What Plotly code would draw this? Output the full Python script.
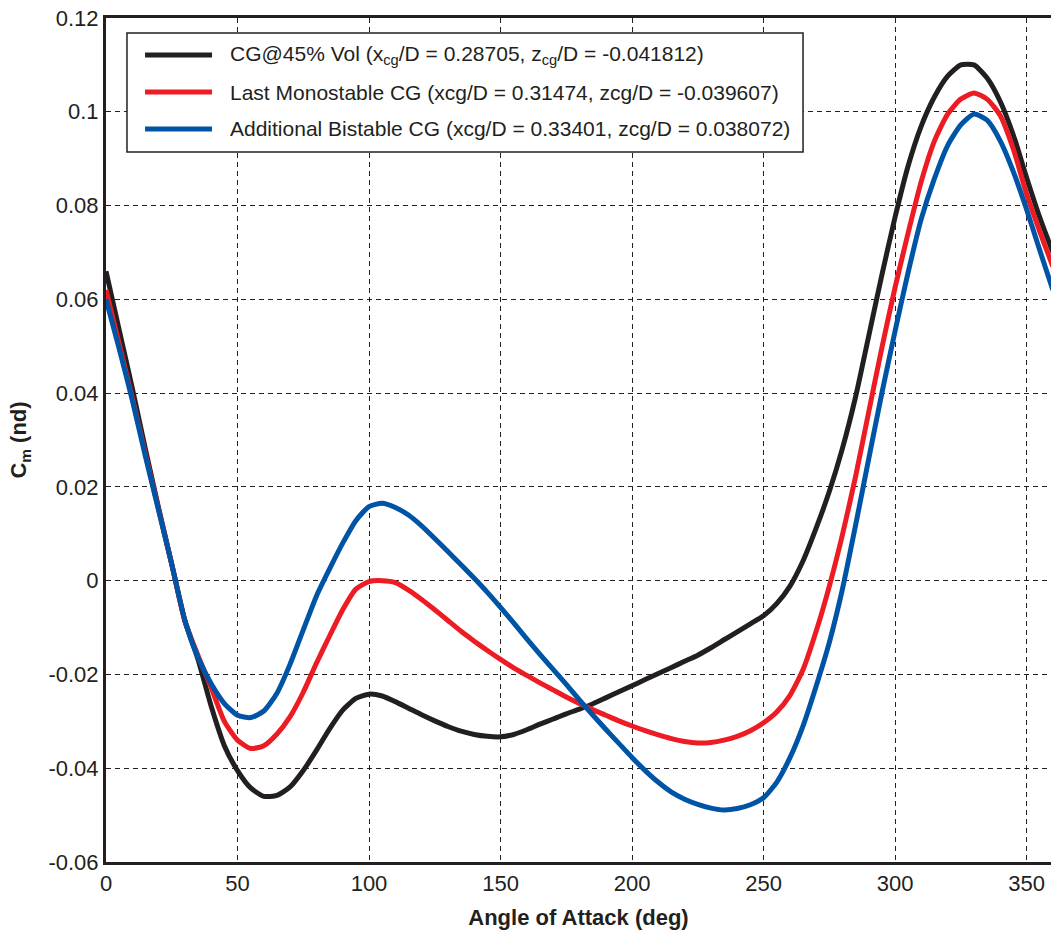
import plotly.graph_objects as go

# ---- data ----
aoa = list(range(0, 365, 5))

cm_black = [0.066, 0.0535, 0.041, 0.028, 0.0155, 0.0035, -0.0086, -0.0168, -0.0268, -0.0352,
            -0.0405, -0.0442, -0.0460, -0.0458, -0.0440, -0.0405, -0.0362, -0.0316, -0.0276, -0.0251,
            -0.0242, -0.0246, -0.0258, -0.0272, -0.0286, -0.0299, -0.0311, -0.0321, -0.0328, -0.0332,
            -0.0333, -0.0328, -0.0318, -0.0306, -0.0295, -0.0284, -0.0274, -0.0263, -0.0250, -0.0237,
            -0.0224, -0.0211, -0.0198, -0.0185, -0.0172, -0.0159, -0.0143, -0.0126, -0.0109, -0.0092,
            -0.0075, -0.0049, -0.0012, 0.0042, 0.0112, 0.0190, 0.0282, 0.0392, 0.0522, 0.0652,
            0.0775, 0.0885, 0.0970, 0.1032, 0.1076, 0.1100, 0.1100, 0.1072, 0.1022, 0.0950,
            0.0860, 0.0775, 0.0700]

cm_red = [0.062, 0.0505, 0.039, 0.027, 0.0152, 0.0035, -0.0086, -0.0160, -0.0228, -0.0300,
          -0.0340, -0.0358, -0.0352, -0.0327, -0.0290, -0.0238, -0.0176, -0.0118, -0.0062, -0.0018,
          -0.0002, 0.0000, -0.0004, -0.0020, -0.0040, -0.0062, -0.0085, -0.0108, -0.0129, -0.0149,
          -0.0168, -0.0186, -0.0202, -0.0218, -0.0233, -0.0248, -0.0262, -0.0275, -0.0287, -0.0299,
          -0.0310, -0.0320, -0.0329, -0.0337, -0.0343, -0.0346, -0.0345, -0.0340, -0.0332, -0.0320,
          -0.0303, -0.0280, -0.0245, -0.0190, -0.0108, -0.0012, 0.0098, 0.0222, 0.0360, 0.0497,
          0.0625, 0.0742, 0.0852, 0.0938, 0.0995, 0.1027, 0.1040, 0.1027, 0.0992, 0.0920,
          0.0825, 0.0745, 0.0670]

cm_blue = [0.060, 0.0495, 0.0385, 0.0265, 0.015, 0.0035, -0.0085, -0.0164, -0.0220, -0.0262,
           -0.0287, -0.0292, -0.0278, -0.0240, -0.0178, -0.0105, -0.0033, 0.0025, 0.0080, 0.0128,
           0.0158, 0.0165, 0.0156, 0.0140, 0.0117, 0.0090, 0.0062, 0.0034, 0.0005, -0.0025,
           -0.0057, -0.0090, -0.0124, -0.0157, -0.0189, -0.0221, -0.0254, -0.0286, -0.0317, -0.0347,
           -0.0377, -0.0405, -0.0430, -0.0451, -0.0466, -0.0477, -0.0485, -0.0489, -0.0486, -0.0478,
           -0.0463, -0.0430, -0.0378, -0.0310, -0.0225, -0.0132, -0.0018, 0.0118, 0.0260, 0.0400,
           0.0532, 0.0658, 0.0772, 0.0858, 0.0928, 0.0972, 0.0995, 0.0982, 0.0938, 0.0872,
           0.0792, 0.0705, 0.0620]

series_names = [
    "CG@45% Vol (x<sub>cg</sub>/D = 0.28705, z<sub>cg</sub>/D = -0.041812)",
    "Last Monostable CG (xcg/D = 0.31474, zcg/D = -0.039607)",
    "Additional Bistable CG (xcg/D = 0.33401, zcg/D = 0.038072)",
]
series_colors = ["#231f20", "#ed1c24", "#0054a6"]

x_tickvals = [0, 50, 100, 150, 200, 250, 300, 350]
x_ticktext = ["0", "50", "100", "150", "200", "250", "300", "350"]
y_tickvals = [-0.06, -0.04, -0.02, 0, 0.02, 0.04, 0.06, 0.08, 0.1, 0.12]
y_ticktext = ["-0.06", "-0.04", "-0.02", "0", "0.02", "0.04", "0.06", "0.08", "0.1", "0.12"]

FONT = "Liberation Sans, Arial, sans-serif"
INK = "#231f20"

fig = go.Figure()
for ys, name, col in zip([cm_black, cm_red, cm_blue], series_names, series_colors):
    fig.add_trace(go.Scatter(x=aoa, y=ys, mode="lines", name=name,
                             line=dict(color=col, width=5, shape="spline", smoothing=0.6),
                             showlegend=False))

# custom legend (paper coordinates)
lx0, lx1, ly0, ly1 = 0.0222, 0.7376, 0.8412, 0.9822
fig.add_shape(type="rect", xref="paper", yref="paper", x0=lx0, x1=lx1, y0=ly0, y1=ly1,
              line=dict(color=INK, width=1.5), fillcolor="white", layer="above")
row_y = [0.9562, 0.9123, 0.8685]
for ry, name, col in zip(row_y, series_names, series_colors):
    fig.add_shape(type="line", xref="paper", yref="paper", x0=0.0413, x1=0.1122, y0=ry, y1=ry,
                  line=dict(color=col, width=5), layer="above")
    fig.add_annotation(xref="paper", yref="paper", x=0.1291, y=ry, text=name, showarrow=False,
                       xanchor="left", yanchor="middle",
                       font=dict(family=FONT, size=21, color=INK))

grid = dict(showgrid=True, gridcolor=INK, gridwidth=1.2, griddash="5px,4px", zeroline=False,
            showline=True, linecolor=INK, linewidth=3, ticks="",
            tickfont=dict(family=FONT, size=22, color=INK))

fig.update_layout(
    width=1051, height=934,
    margin=dict(l=106, r=0, t=18, b=72, autoexpand=False),
    paper_bgcolor="white", plot_bgcolor="white",
    xaxis=dict(range=[0, 359.3], tickvals=x_tickvals, ticktext=x_ticktext, mirror=True,
               title=dict(text="<b>Angle of Attack (deg)</b>", standoff=15,
                          font=dict(family=FONT, size=22, color=INK)),
               **grid),
    yaxis=dict(range=[-0.06, 0.12], tickvals=y_tickvals, ticktext=y_ticktext, mirror=False,
               title=dict(text="<b>C<sub>m</sub> (nd)</b>", standoff=16,
                          font=dict(family=FONT, size=22, color=INK)),
               **grid),
)

fig.write_html("out.html")
